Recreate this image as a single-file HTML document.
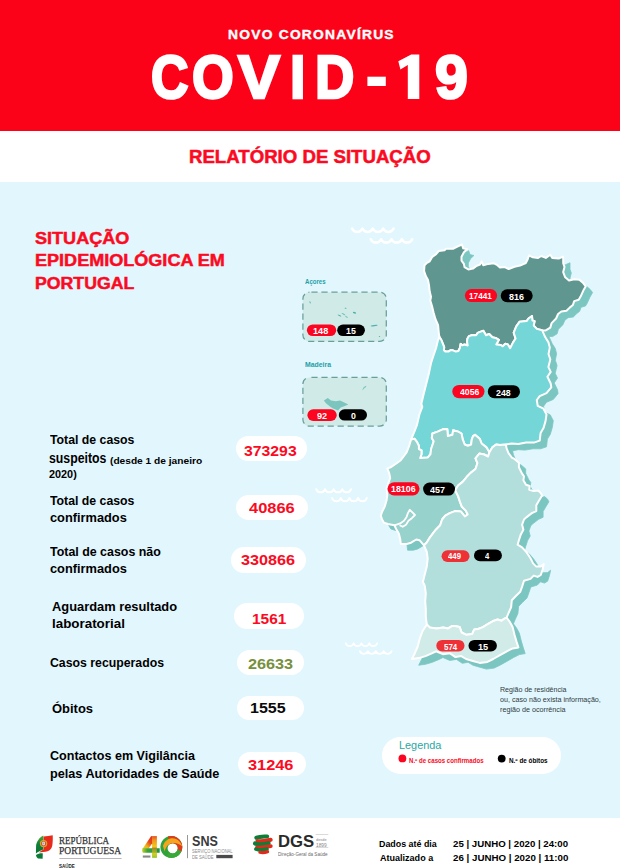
<!DOCTYPE html>
<html><head><meta charset="utf-8">
<style>
html,body{margin:0;padding:0;}
body{width:620px;height:868px;position:relative;overflow:hidden;background:#fff;font-family:"Liberation Sans",sans-serif;}
.bg{position:absolute;left:0;width:620px;}
.t{position:absolute;white-space:nowrap;line-height:1;font-weight:bold;transform-origin:0 50%;font-family:"Liberation Sans",sans-serif;}
.p{position:absolute;background:#fff;}
svg{position:absolute;left:0;top:0;}
</style></head><body>
<div class="bg" style="top:0;height:130.9px;background:#fb0219;"></div>
<div class="bg" style="top:182.1px;height:635.7px;background:#e2f6fd;"></div>
<div class="p" style="left:236.2px;top:436.4px;width:70.8px;height:24.5px;border-radius:12.2px;"></div>
<div class="p" style="left:235.7px;top:494.7px;width:72.2px;height:24.9px;border-radius:12.5px;"></div>
<div class="p" style="left:231.1px;top:547.0px;width:75.0px;height:25.5px;border-radius:12.8px;"></div>
<div class="p" style="left:234.2px;top:603.1px;width:70.0px;height:26.1px;border-radius:13.1px;"></div>
<div class="p" style="left:237.1px;top:650.4px;width:67.1px;height:24.9px;border-radius:12.4px;"></div>
<div class="p" style="left:237.1px;top:695.6px;width:67.1px;height:24.5px;border-radius:12.2px;"></div>
<div class="p" style="left:238.4px;top:751.6px;width:67.9px;height:24.5px;border-radius:12.2px;"></div>
<div class="p" style="left:381.5px;top:737.3px;width:179.3px;height:36.7px;border-radius:18.4px;"></div>
<svg width="620" height="868" viewBox="0 0 620 868">
<g transform="translate(6.8,6.2)" fill="#7cc6c1" stroke="#7cc6c1" stroke-width="0.8" stroke-linejoin="round"><path d="M461.9,244.5 L463.2,248.4 L467.1,249.3 L463.9,252.3 L461.5,256.8 L461.5,260.6 L463.9,263.9 L464.5,267.1 L468.4,269.4 L472.9,268.6 L476.8,265.8 L480,264.5 L481.7,261.3 L483.2,265.2 L488.4,263.9 L493.5,263.2 L497.4,265.2 L500,267.6 L504.8,267.1 L508.7,269 L514.5,266.8 L520,265.6 L525.8,263.1 L527.7,259.2 L529,255.3 L532.9,257.3 L538.1,257.9 L541.3,256 L545.8,257.9 L550.3,254.7 L552.3,257.9 L558.7,258.5 L563.2,256.6 L563.2,263.1 L564.5,266.9 L563.2,272.1 L565.2,277.3 L569,280.5 L574.2,279.2 L579.4,279.8 L583.2,283.1 L585.8,286.3 L583.2,290.8 L580.6,296.6 L578.7,299.8 L574.2,301.1 L572.9,305 L569.7,307.6 L566.5,310.8 L561.3,311.5 L558.1,314 L556.1,318.5 L551.6,323.1 L550.3,327.6 L545.8,330.4 L542.1,330.2 L536.9,328.9 L533.7,325.6 L534.6,321.1 L532.4,320.5 L532,316 L528.5,318.5 L526.6,321.1 L519.5,321.8 L516.3,326.3 L513.7,332.7 L515.6,338.5 L513.1,342.4 L510.1,348.2 L507.9,344.4 L505.3,343.7 L502.7,346.3 L500.8,345 L496.3,344.4 L498.9,339.8 L495.6,337.9 L492.4,337.3 L489.2,334 L486,335.3 L483.4,330.8 L480,331.9 L477.7,332.9 L476.1,335.2 L471.6,335.2 L469,336.1 L467.4,338.7 L467.1,341.9 L467.7,345.5 L464.5,344.5 L462.3,345.2 L460.6,343.9 L460,347.7 L458.4,351 L455.8,351.6 L452.9,350.3 L450.3,350.3 L448.4,351.6 L445.5,351.6 L443.9,350.3 L444.2,347.1 L442.9,343.9 L441.6,340.6 L439.5,337 L439,334.8 L438.1,325.2 L435.4,319 L433.5,312.3 L432.3,307.1 L430.3,300.6 L431,296.8 L429.7,291.6 L429,285.2 L428,280 L425.8,276.1 L424.1,271 L424.5,265.2 L426.5,263.2 L429.7,261.3 L432.3,256.8 L436.1,254.2 L438.7,251 L444.5,250.3 L445.8,248.8 L452.9,248.8 L457.4,246.5 Z"/><path d="M439.5,337 L441.6,340.6 L442.9,343.9 L444.2,347.1 L443.9,350.3 L445.5,351.6 L448.4,351.6 L450.3,350.3 L452.9,350.3 L455.8,351.6 L458.4,351 L460,347.7 L460.6,343.9 L462.3,345.2 L464.5,344.5 L467.7,345.5 L467.1,341.9 L467.4,338.7 L469,336.1 L471.6,335.2 L476.1,335.2 L477.7,332.9 L480,331.9 L483.4,330.8 L486,335.3 L489.2,334 L492.4,337.3 L495.6,337.9 L498.9,339.8 L496.3,344.4 L500.8,345 L502.7,346.3 L505.3,343.7 L507.9,344.4 L510.1,348.2 L513.1,342.4 L515.6,338.5 L513.7,332.7 L516.3,326.3 L519.5,321.8 L526.6,321.1 L528.5,318.5 L532,316 L532.4,320.5 L534.6,321.1 L533.7,325.6 L536.9,328.9 L542.1,330.2 L545.3,337.3 L548.5,342.4 L549.8,347.6 L548.5,354 L550.3,359.4 L548.4,367.1 L550.7,371.9 L547.4,376.8 L550.7,383.5 L551.3,387.4 L546.5,393.2 L539.7,396.1 L536.8,400 L537.7,405.8 L543.5,408.7 L546.5,414.5 L545.5,421.3 L543.5,428.1 L540.6,432.9 L539.7,440.6 L533.9,442.6 L526.1,442.6 L518.4,443.9 L511.6,443.5 L505.8,444.5 L500,445.1 L496.1,444.5 L492.3,447.4 L489.4,452.3 L486.5,447.4 L481.6,443.5 L479.7,438.7 L475,434.8 L473.1,436.1 L471.8,439.4 L471.1,444.5 L467.9,445.8 L464.7,444.5 L462.7,439.4 L461.5,433.5 L458.2,431.6 L453.1,430.3 L452.4,434.8 L447.9,436.1 L447.3,429 L442.7,429.3 L437.6,431.6 L432.4,433.5 L431.8,438.1 L433.7,441.3 L432.4,445.2 L431.1,449 L430.5,454.2 L427.9,457.4 L420.2,458.1 L421.5,454.2 L421.5,450.3 L418.9,449 L418.9,445.8 L416.9,441.9 L414.4,438.7 L411.1,439.4 L414.4,431.6 L416.9,425.2 L419.4,414.5 L422.3,406.8 L421.3,403.9 L423.2,396.1 L426.1,384.5 L429,372.9 L431,363.2 L433,357 L436.1,348 L438,340 Z"/><path d="M411.1,439.4 L414.4,438.7 L416.9,441.9 L418.9,445.8 L418.9,449 L421.5,450.3 L421.5,454.2 L420.2,458.1 L427.9,457.4 L430.5,454.2 L431.1,449 L432.4,445.2 L433.7,441.3 L431.8,438.1 L432.4,433.5 L437.6,431.6 L442.7,429.3 L447.3,429 L447.9,436.1 L452.4,434.8 L453.1,430.3 L458.2,431.6 L461.5,433.5 L462.7,439.4 L464.7,444.5 L467.9,445.8 L471.1,444.5 L471.8,439.4 L473.1,436.1 L475,434.8 L479.7,438.7 L481.6,443.5 L486.5,447.4 L489.4,452.3 L488.1,456.5 L484.2,454.5 L479.4,453.5 L475.5,458.4 L477.4,463.2 L475.5,469 L470.6,472.9 L466.8,476.8 L462.9,481.6 L458.1,485.5 L455.2,490.3 L458.1,496.1 L460,501.9 L461.9,506.8 L465.8,510.6 L467.7,514.5 L464.8,516.5 L461,511.6 L455,511.1 L449.8,513.1 L445.3,515.6 L442.1,519.5 L440.2,525.3 L436.3,529.2 L433.7,532.4 L429.8,537.6 L426.6,542.7 L424,545.3 L419.5,540.2 L416.3,539.5 L411.1,542.7 L406.6,544 L400.8,544 L400.2,538.9 L398.9,533.7 L396.3,529.2 L394.4,525.3 L387.9,524 L384,522.7 L382.1,519.5 L380.8,515.6 L382.1,511.8 L384.7,506.6 L386.6,500.2 L387.3,495 L386.6,488.5 L388.5,482.7 L390.2,478.2 L389.2,473.1 L387.3,468.5 L390.5,467.3 L395.6,464 L400.8,460.2 L404.7,455 L406.6,452.3 L409.2,445.8 Z"/><path d="M489.4,452.3 L492.3,447.4 L496.1,444.5 L500,445.1 L505.8,444.5 L506.6,448.4 L508.5,453.1 L511.8,457.6 L514.4,458.9 L518.9,462.7 L518.9,467.3 L522.1,473.7 L524,476.3 L523.4,480.2 L526,484.7 L529.6,486 L529.2,489.8 L533.7,491.1 L538.2,490.5 L540.8,493.1 L542.1,495.6 L538.9,500.8 L536.3,505.3 L536.3,511.1 L531.8,513.1 L526,517.6 L524,519.5 L522.1,524.7 L523.4,529.8 L520.8,534.4 L518.9,540.2 L517.6,544.7 L522.1,547.3 L526.6,552.4 L530.5,558.2 L533.1,563.4 L536.3,566.6 L540.8,566.4 L543.8,564 L542.7,569.2 L540.8,575 L537.6,576.9 L533.7,575.6 L530.5,578.9 L524,580.8 L522.1,586.6 L520.2,591.8 L515.6,596.3 L511.8,600.2 L511.1,607.3 L508.5,613.1 L506.6,617.6 L504,618.9 L501.5,620.8 L497.6,619.5 L492.6,621.3 L487.7,624.2 L482.9,627.1 L478.1,629 L474.2,629.4 L472.3,633.9 L466.5,634.8 L461.6,632.5 L459.7,627.1 L454.8,626.1 L451.9,626.1 L448.1,628.4 L443.2,627.4 L436.5,628.4 L429.7,627.4 L426.8,624.5 L425.8,616.8 L425.8,609 L425.2,601.3 L425.8,593.5 L424.8,585.8 L422.9,581.9 L424.8,574.2 L426.8,566.5 L427.7,558.7 L426.8,551.9 L424,545.3 L426.6,542.7 L429.8,537.6 L433.7,532.4 L436.3,529.2 L440.2,525.3 L442.1,519.5 L445.3,515.6 L449.8,513.1 L455,511.1 L461,511.6 L464.8,516.5 L467.7,514.5 L465.8,510.6 L461.9,506.8 L460,501.9 L458.1,496.1 L455.2,490.3 L458.1,485.5 L462.9,481.6 L466.8,476.8 L470.6,472.9 L475.5,469 L477.4,463.2 L475.5,458.4 L479.4,453.5 L484.2,454.5 L488.1,456.5 Z"/><path d="M426.8,624.5 L429.7,627.4 L436.5,628.4 L443.2,627.4 L448.1,628.4 L451.9,626.1 L454.8,626.1 L459.7,627.1 L461.6,632.5 L466.5,634.8 L472.3,633.9 L474.2,629.4 L478.1,629 L482.9,627.1 L487.7,624.2 L492.6,621.3 L497.6,619.5 L501.5,620.8 L504,618.9 L506.6,617.6 L508.7,620.3 L510,622.3 L512.6,627.1 L514.5,634.8 L516.5,641.6 L518.4,647.4 L512.6,648.4 L506.8,651.3 L500,655.2 L493.2,659 L487.4,661.9 L479.7,662.9 L472.9,661 L466.1,659 L461.3,656.1 L455.5,657.1 L449.7,653.2 L442.9,654.2 L436.1,651.3 L432.3,653.2 L425.5,656.1 L418.7,658.1 L411.9,659 L414.8,653.2 L417.7,646.5 L419.7,638.7 L422.6,631 Z"/></g>
<path d="M461.9,244.5 L463.2,248.4 L467.1,249.3 L463.9,252.3 L461.5,256.8 L461.5,260.6 L463.9,263.9 L464.5,267.1 L468.4,269.4 L472.9,268.6 L476.8,265.8 L480,264.5 L481.7,261.3 L483.2,265.2 L488.4,263.9 L493.5,263.2 L497.4,265.2 L500,267.6 L504.8,267.1 L508.7,269 L514.5,266.8 L520,265.6 L525.8,263.1 L527.7,259.2 L529,255.3 L532.9,257.3 L538.1,257.9 L541.3,256 L545.8,257.9 L550.3,254.7 L552.3,257.9 L558.7,258.5 L563.2,256.6 L563.2,263.1 L564.5,266.9 L563.2,272.1 L565.2,277.3 L569,280.5 L574.2,279.2 L579.4,279.8 L583.2,283.1 L585.8,286.3 L583.2,290.8 L580.6,296.6 L578.7,299.8 L574.2,301.1 L572.9,305 L569.7,307.6 L566.5,310.8 L561.3,311.5 L558.1,314 L556.1,318.5 L551.6,323.1 L550.3,327.6 L545.8,330.4 L542.1,330.2 L536.9,328.9 L533.7,325.6 L534.6,321.1 L532.4,320.5 L532,316 L528.5,318.5 L526.6,321.1 L519.5,321.8 L516.3,326.3 L513.7,332.7 L515.6,338.5 L513.1,342.4 L510.1,348.2 L507.9,344.4 L505.3,343.7 L502.7,346.3 L500.8,345 L496.3,344.4 L498.9,339.8 L495.6,337.9 L492.4,337.3 L489.2,334 L486,335.3 L483.4,330.8 L480,331.9 L477.7,332.9 L476.1,335.2 L471.6,335.2 L469,336.1 L467.4,338.7 L467.1,341.9 L467.7,345.5 L464.5,344.5 L462.3,345.2 L460.6,343.9 L460,347.7 L458.4,351 L455.8,351.6 L452.9,350.3 L450.3,350.3 L448.4,351.6 L445.5,351.6 L443.9,350.3 L444.2,347.1 L442.9,343.9 L441.6,340.6 L439.5,337 L439,334.8 L438.1,325.2 L435.4,319 L433.5,312.3 L432.3,307.1 L430.3,300.6 L431,296.8 L429.7,291.6 L429,285.2 L428,280 L425.8,276.1 L424.1,271 L424.5,265.2 L426.5,263.2 L429.7,261.3 L432.3,256.8 L436.1,254.2 L438.7,251 L444.5,250.3 L445.8,248.8 L452.9,248.8 L457.4,246.5 Z" fill="#5f9790" stroke="#fff" stroke-width="2.0" stroke-linejoin="round"/>
<path d="M439.5,337 L441.6,340.6 L442.9,343.9 L444.2,347.1 L443.9,350.3 L445.5,351.6 L448.4,351.6 L450.3,350.3 L452.9,350.3 L455.8,351.6 L458.4,351 L460,347.7 L460.6,343.9 L462.3,345.2 L464.5,344.5 L467.7,345.5 L467.1,341.9 L467.4,338.7 L469,336.1 L471.6,335.2 L476.1,335.2 L477.7,332.9 L480,331.9 L483.4,330.8 L486,335.3 L489.2,334 L492.4,337.3 L495.6,337.9 L498.9,339.8 L496.3,344.4 L500.8,345 L502.7,346.3 L505.3,343.7 L507.9,344.4 L510.1,348.2 L513.1,342.4 L515.6,338.5 L513.7,332.7 L516.3,326.3 L519.5,321.8 L526.6,321.1 L528.5,318.5 L532,316 L532.4,320.5 L534.6,321.1 L533.7,325.6 L536.9,328.9 L542.1,330.2 L545.3,337.3 L548.5,342.4 L549.8,347.6 L548.5,354 L550.3,359.4 L548.4,367.1 L550.7,371.9 L547.4,376.8 L550.7,383.5 L551.3,387.4 L546.5,393.2 L539.7,396.1 L536.8,400 L537.7,405.8 L543.5,408.7 L546.5,414.5 L545.5,421.3 L543.5,428.1 L540.6,432.9 L539.7,440.6 L533.9,442.6 L526.1,442.6 L518.4,443.9 L511.6,443.5 L505.8,444.5 L500,445.1 L496.1,444.5 L492.3,447.4 L489.4,452.3 L486.5,447.4 L481.6,443.5 L479.7,438.7 L475,434.8 L473.1,436.1 L471.8,439.4 L471.1,444.5 L467.9,445.8 L464.7,444.5 L462.7,439.4 L461.5,433.5 L458.2,431.6 L453.1,430.3 L452.4,434.8 L447.9,436.1 L447.3,429 L442.7,429.3 L437.6,431.6 L432.4,433.5 L431.8,438.1 L433.7,441.3 L432.4,445.2 L431.1,449 L430.5,454.2 L427.9,457.4 L420.2,458.1 L421.5,454.2 L421.5,450.3 L418.9,449 L418.9,445.8 L416.9,441.9 L414.4,438.7 L411.1,439.4 L414.4,431.6 L416.9,425.2 L419.4,414.5 L422.3,406.8 L421.3,403.9 L423.2,396.1 L426.1,384.5 L429,372.9 L431,363.2 L433,357 L436.1,348 L438,340 Z" fill="#74d6d6" stroke="#fff" stroke-width="2.0" stroke-linejoin="round"/>
<path d="M411.1,439.4 L414.4,438.7 L416.9,441.9 L418.9,445.8 L418.9,449 L421.5,450.3 L421.5,454.2 L420.2,458.1 L427.9,457.4 L430.5,454.2 L431.1,449 L432.4,445.2 L433.7,441.3 L431.8,438.1 L432.4,433.5 L437.6,431.6 L442.7,429.3 L447.3,429 L447.9,436.1 L452.4,434.8 L453.1,430.3 L458.2,431.6 L461.5,433.5 L462.7,439.4 L464.7,444.5 L467.9,445.8 L471.1,444.5 L471.8,439.4 L473.1,436.1 L475,434.8 L479.7,438.7 L481.6,443.5 L486.5,447.4 L489.4,452.3 L488.1,456.5 L484.2,454.5 L479.4,453.5 L475.5,458.4 L477.4,463.2 L475.5,469 L470.6,472.9 L466.8,476.8 L462.9,481.6 L458.1,485.5 L455.2,490.3 L458.1,496.1 L460,501.9 L461.9,506.8 L465.8,510.6 L467.7,514.5 L464.8,516.5 L461,511.6 L455,511.1 L449.8,513.1 L445.3,515.6 L442.1,519.5 L440.2,525.3 L436.3,529.2 L433.7,532.4 L429.8,537.6 L426.6,542.7 L424,545.3 L419.5,540.2 L416.3,539.5 L411.1,542.7 L406.6,544 L400.8,544 L400.2,538.9 L398.9,533.7 L396.3,529.2 L394.4,525.3 L387.9,524 L384,522.7 L382.1,519.5 L380.8,515.6 L382.1,511.8 L384.7,506.6 L386.6,500.2 L387.3,495 L386.6,488.5 L388.5,482.7 L390.2,478.2 L389.2,473.1 L387.3,468.5 L390.5,467.3 L395.6,464 L400.8,460.2 L404.7,455 L406.6,452.3 L409.2,445.8 Z" fill="#98d2cd" stroke="#fff" stroke-width="2.0" stroke-linejoin="round"/>
<path d="M489.4,452.3 L492.3,447.4 L496.1,444.5 L500,445.1 L505.8,444.5 L506.6,448.4 L508.5,453.1 L511.8,457.6 L514.4,458.9 L518.9,462.7 L518.9,467.3 L522.1,473.7 L524,476.3 L523.4,480.2 L526,484.7 L529.6,486 L529.2,489.8 L533.7,491.1 L538.2,490.5 L540.8,493.1 L542.1,495.6 L538.9,500.8 L536.3,505.3 L536.3,511.1 L531.8,513.1 L526,517.6 L524,519.5 L522.1,524.7 L523.4,529.8 L520.8,534.4 L518.9,540.2 L517.6,544.7 L522.1,547.3 L526.6,552.4 L530.5,558.2 L533.1,563.4 L536.3,566.6 L540.8,566.4 L543.8,564 L542.7,569.2 L540.8,575 L537.6,576.9 L533.7,575.6 L530.5,578.9 L524,580.8 L522.1,586.6 L520.2,591.8 L515.6,596.3 L511.8,600.2 L511.1,607.3 L508.5,613.1 L506.6,617.6 L504,618.9 L501.5,620.8 L497.6,619.5 L492.6,621.3 L487.7,624.2 L482.9,627.1 L478.1,629 L474.2,629.4 L472.3,633.9 L466.5,634.8 L461.6,632.5 L459.7,627.1 L454.8,626.1 L451.9,626.1 L448.1,628.4 L443.2,627.4 L436.5,628.4 L429.7,627.4 L426.8,624.5 L425.8,616.8 L425.8,609 L425.2,601.3 L425.8,593.5 L424.8,585.8 L422.9,581.9 L424.8,574.2 L426.8,566.5 L427.7,558.7 L426.8,551.9 L424,545.3 L426.6,542.7 L429.8,537.6 L433.7,532.4 L436.3,529.2 L440.2,525.3 L442.1,519.5 L445.3,515.6 L449.8,513.1 L455,511.1 L461,511.6 L464.8,516.5 L467.7,514.5 L465.8,510.6 L461.9,506.8 L460,501.9 L458.1,496.1 L455.2,490.3 L458.1,485.5 L462.9,481.6 L466.8,476.8 L470.6,472.9 L475.5,469 L477.4,463.2 L475.5,458.4 L479.4,453.5 L484.2,454.5 L488.1,456.5 Z" fill="#b2dedc" stroke="#fff" stroke-width="2.0" stroke-linejoin="round"/>
<path d="M426.8,624.5 L429.7,627.4 L436.5,628.4 L443.2,627.4 L448.1,628.4 L451.9,626.1 L454.8,626.1 L459.7,627.1 L461.6,632.5 L466.5,634.8 L472.3,633.9 L474.2,629.4 L478.1,629 L482.9,627.1 L487.7,624.2 L492.6,621.3 L497.6,619.5 L501.5,620.8 L504,618.9 L506.6,617.6 L508.7,620.3 L510,622.3 L512.6,627.1 L514.5,634.8 L516.5,641.6 L518.4,647.4 L512.6,648.4 L506.8,651.3 L500,655.2 L493.2,659 L487.4,661.9 L479.7,662.9 L472.9,661 L466.1,659 L461.3,656.1 L455.5,657.1 L449.7,653.2 L442.9,654.2 L436.1,651.3 L432.3,653.2 L425.5,656.1 L418.7,658.1 L411.9,659 L414.8,653.2 L417.7,646.5 L419.7,638.7 L422.6,631 Z" fill="#d0ebe8" stroke="#fff" stroke-width="2.0" stroke-linejoin="round"/>
<path d="M394.4,525.3 L400.2,523.4 L404,520.8 L406.6,516.9 L407.9,513.1 L409.8,509.8 L412.4,512.4 L415,515 L411.8,518.2 L408.5,520.8 L406,524.7 L402.7,526.8 L399.6,525.2" fill="none" stroke="#fff" stroke-width="1.8" stroke-linejoin="round"/>
<path d="M352.0,228.6 a5.68,5.68 0 0 0 10.40,0 a5.68,5.68 0 0 0 10.40,0 a5.68,5.68 0 0 0 10.40,0 a5.68,5.68 0 0 0 10.40,0" fill="none" stroke="#fff" stroke-width="2.5" stroke-linecap="round" stroke-linejoin="round"/>
<path d="M370.8,239.2 a5.64,5.64 0 0 0 10.35,0 a5.64,5.64 0 0 0 10.35,0 a5.64,5.64 0 0 0 10.35,0 a5.64,5.64 0 0 0 10.35,0" fill="none" stroke="#fff" stroke-width="2.5" stroke-linecap="round" stroke-linejoin="round"/>
<path d="M316.3,489.3 a4.64,4.64 0 0 0 8.67,0 a4.64,4.64 0 0 0 8.67,0 a4.64,4.64 0 0 0 8.67,0 a4.64,4.64 0 0 0 8.67,0" fill="none" stroke="#fff" stroke-width="2.0" stroke-linecap="round" stroke-linejoin="round"/>
<path d="M332.1,498.0 a4.50,4.50 0 0 0 8.67,0 a4.50,4.50 0 0 0 8.67,0 a4.50,4.50 0 0 0 8.67,0 a4.50,4.50 0 0 0 8.67,0" fill="none" stroke="#fff" stroke-width="2.0" stroke-linecap="round" stroke-linejoin="round"/>
<path d="M345.7,643.3 a4.17,4.17 0 0 0 7.88,0 a4.17,4.17 0 0 0 7.88,0 a4.17,4.17 0 0 0 7.88,0 a4.17,4.17 0 0 0 7.88,0" fill="none" stroke="#fff" stroke-width="1.8" stroke-linecap="round" stroke-linejoin="round"/>
<path d="M359.9,651.1 a4.26,4.26 0 0 0 7.93,0 a4.26,4.26 0 0 0 7.93,0 a4.26,4.26 0 0 0 7.93,0 a4.26,4.26 0 0 0 7.93,0" fill="none" stroke="#fff" stroke-width="1.8" stroke-linecap="round" stroke-linejoin="round"/>
<rect x="302.9" y="292.2" width="83.4" height="49.2" rx="6.5" fill="#d0eae7" stroke="#6a9f99" stroke-width="1.25" stroke-dasharray="6.2 3.8" stroke-dashoffset="-2"/>
<rect x="302.9" y="377.4" width="83.4" height="48.7" rx="6.5" fill="#d0eae7" stroke="#6a9f99" stroke-width="1.25" stroke-dasharray="6.2 3.8" stroke-dashoffset="-2"/>
<ellipse cx="310.1" cy="302.3" rx="0.5" ry="1.2" fill="#4fb0ad" transform="rotate(-20 310.1 302.3)"/>
<ellipse cx="345.6" cy="308.2" rx="1.0" ry="0.5" fill="#4fb0ad" transform="rotate(10 345.6 308.2)"/>
<ellipse cx="339.5" cy="315.5" rx="2.0" ry="0.45" fill="#4fb0ad" transform="rotate(25 339.5 315.5)"/>
<ellipse cx="343.5" cy="314.2" rx="2.2" ry="0.45" fill="#4fb0ad" transform="rotate(30 343.5 314.2)"/>
<ellipse cx="346.5" cy="316.8" rx="1.5" ry="0.4" fill="#4fb0ad" transform="rotate(30 346.5 316.8)"/>
<ellipse cx="354.5" cy="312.8" rx="1.7" ry="0.8" fill="#4fb0ad" transform="rotate(15 354.5 312.8)"/>
<ellipse cx="374.2" cy="325.6" rx="3.6" ry="0.7" fill="#4fb0ad" transform="rotate(-8 374.2 325.6)"/>
<ellipse cx="379.5" cy="336.6" rx="0.7" ry="0.5" fill="#4fb0ad" transform="rotate(0 379.5 336.6)"/>
<path d="M323.8,400.4 L327.8,398 L331,400.4 L335.9,401.2 L340,400.4 L344.8,402.8 L348.3,404.4 L344.8,406 L340.7,407.6 L338,410.5 L333,408.5 L330.3,406.8 L326.2,403.6 Z" fill="#7cc5bf"/>
<path d="M362.4,390.6 Q362.6,387 366.2,385.8 Q366.8,387 364.6,388 Q363.4,389 362.4,390.6 Z" fill="#7cc5bf"/>
<rect x="464.9" y="289.0" width="32.2" height="13.1" rx="6.6" fill="#fb0521"/>
<rect x="500.7" y="289.3" width="32.0" height="12.9" rx="6.4" fill="#000"/>
<rect x="452.3" y="384.9" width="32.2" height="13.3" rx="6.7" fill="#fb0521"/>
<rect x="487.8" y="385.2" width="32.2" height="13.0" rx="6.5" fill="#000"/>
<rect x="387.5" y="482.2" width="32.0" height="13.3" rx="6.7" fill="#fb0521"/>
<rect x="423.1" y="482.6" width="31.9" height="12.9" rx="6.4" fill="#000"/>
<rect x="441.6" y="550.3" width="27.9" height="11.7" rx="5.9" fill="#ee3037"/>
<rect x="474.0" y="549.5" width="27.9" height="11.8" rx="5.9" fill="#000"/>
<rect x="436.3" y="639.9" width="28.2" height="11.6" rx="5.8" fill="#ee3037"/>
<rect x="468.5" y="639.9" width="28.4" height="11.6" rx="5.8" fill="#000"/>
<rect x="306.9" y="324.4" width="29.3" height="11.7" rx="5.9" fill="#fb0521"/>
<rect x="337.2" y="324.6" width="27.7" height="11.5" rx="5.8" fill="#000"/>
<rect x="307.4" y="409.3" width="29.3" height="11.7" rx="5.8" fill="#fb0521"/>
<rect x="338.8" y="409.3" width="28.2" height="11.3" rx="5.7" fill="#000"/>
<path d="M419.3,54.5 L411.2,54.5 L398.3,61.3 L400.4,69.4 L407.8,64.9 L407.8,98.9 L419.3,98.9 Z" fill="#fff"/>
<circle cx="402.4" cy="758.4" r="3.9" fill="#fb0521"/><circle cx="501.7" cy="758.6" r="3.9" fill="#000"/>
<defs><linearGradient id="g4a" x1="0.9" y1="0" x2="0.1" y2="1"><stop offset="0" stop-color="#e0341b"/><stop offset="0.35" stop-color="#e6451a"/><stop offset="0.7" stop-color="#f0b41a"/><stop offset="1" stop-color="#d8d22a"/></linearGradient><linearGradient id="g4b" x1="0" y1="0" x2="0" y2="1"><stop offset="0" stop-color="#e8521b"/><stop offset="0.2" stop-color="#f09a1b"/><stop offset="0.45" stop-color="#f0c41a"/><stop offset="0.8" stop-color="#c4cf28"/><stop offset="1" stop-color="#8fc22c"/></linearGradient><linearGradient id="g4c" x1="0" y1="0" x2="1" y2="0"><stop offset="0" stop-color="#c6d02a"/><stop offset="0.3" stop-color="#3da437"/><stop offset="1" stop-color="#149645"/></linearGradient><linearGradient id="gfg" x1="0" y1="0" x2="0" y2="1"><stop offset="0" stop-color="#4fae2d"/><stop offset="0.5" stop-color="#0e7f3a"/><stop offset="1" stop-color="#0a7434"/></linearGradient><clipPath id="cdgs"><circle cx="263.05" cy="844.35" r="10.1"/></clipPath><clipPath id="c0"><path d="M171.35,835.9 a11,11 0 1,0 0.01,0 Z M172.7,843.2 a5.1,5.1 0 1,1 -0.01,0 Z" clip-rule="evenodd"/></clipPath></defs>
<path d="M43.3,835.4 C39.6,837.2 36.6,841.2 36.1,845.6 L35.9,853.6 C38,851.8 41,850.4 43.3,849.6 Z" fill="url(#gfg)"/>
<path d="M36,855 C38,853.6 40.4,853.2 42.8,853.4 L42.6,858.8 L38,858.4 C36.8,857.8 36.1,856.6 36,855 Z" fill="#0c7a37"/>
<path d="M43.5,836.4 C46.5,836.2 49.8,835.8 52.7,835.2 C52.9,838.6 52.8,842.4 52.3,845.4 C51.6,848.6 50,850.4 47.6,851.2 C44.8,852 41.6,852 39.0,852.6 C40.4,851.2 42,850.2 43.5,849.6 Z" fill="#e62b1b"/>
<circle cx="43.6" cy="843.6" r="3.7" fill="#d9a92a"/><circle cx="43.6" cy="843.6" r="2.6" fill="#d3552a"/><rect x="42.35" y="841.8" width="2.5" height="3.5" rx="0.8" fill="#e9eef7"/><rect x="43.0" y="842.5" width="1.2" height="1.9" fill="#8aa5d8"/>
<rect x="59.4" y="858.3" width="62.2" height="0.7" fill="#9a9a9a"/>
<path d="M152.1,836.1 L156.9,836.1 L156.9,857.7 L152.1,857.7 Z" fill="url(#g4b)"/>
<path d="M151.0,836.3 Q151.4,836.1 152.2,836.1 L152.2,843.3 L148.7,848.5 L142.3,849.2 Z" fill="url(#g4a)"/>
<path d="M142.5,848.3 L159.7,848.3 L159.7,852.8 L142.9,852.8 Q141.6,851 142.5,848.3 Z" fill="url(#g4c)"/>
<path d="M152.1,847.5 L156.9,847.5 L156.9,857.7 L152.1,857.7 Z" fill="url(#g4b)" opacity="0.6"/>
<g clip-path="url(#c0)"><rect x="160" y="835" width="23" height="24" fill="#2fa23a"/><path d="M167.5,835 L183,835 L183,853.5 L176,849 L171,846.8 Z" fill="#de3a1e"/><path d="M163,846 C165,839.5 171,837 176,839 C179,840.4 181.5,843.2 182.4,846.5 C179,843.6 175.4,842.2 171.4,843.2 C167.6,844.2 165.6,847.6 164.6,851.5 Z" fill="#f4a51c"/><path d="M166.5,857 C169,859 175,859 178.5,856 C180,854.6 181,853 181.6,851.4 L177,849 C176,852 172,853.6 168.6,852.2 Z" fill="#3aa836"/></g>
<rect x="142.8" y="855.5" width="7.6" height="2.1" fill="#555" opacity="0.7"/>
<rect x="187.2" y="835" width="0.7" height="23.2" fill="#6a6a6a"/>
<rect x="216.3" y="854.9" width="16.3" height="3.3" fill="#4a4a4a"/>
<path d="M256.3,837.7 C260,836.7 264,836.7 267.2,836.4" fill="none" stroke="#0e7d38" stroke-width="4.0" stroke-linecap="round"/><path d="M257.5,841.2 C262,842 267,840.6 270.6,839.8" fill="none" stroke="#e12a1b" stroke-width="4.2" stroke-linecap="round"/><path d="M255.1,843.4 C259,844.8 265,844.4 268.5,843.2" fill="none" stroke="#0e7d38" stroke-width="4.2" stroke-linecap="round"/><path d="M257,847.5 C262,848 267,846.8 270.8,846.1" fill="none" stroke="#e12a1b" stroke-width="3.8" stroke-linecap="round"/><path d="M255.9,849.1 C259,850.2 263,850 267,849.1" fill="none" stroke="#0e7d38" stroke-width="3.6" stroke-linecap="round"/><path d="M259.9,852.3 C262,852.8 265,852.6 267.6,851.7" fill="none" stroke="#e12a1b" stroke-width="3.2" stroke-linecap="round"/>
<rect x="315.6" y="834.2" width="12.7" height="0.5" fill="#b5b5b5"/><rect x="315.6" y="847.0" width="12.7" height="0.5" fill="#b5b5b5"/>
</svg>
<div class="t" id="h1" style="left:227.96px;top:27.81px;font-size:13.4px;color:#fff;letter-spacing:1.2px;-webkit-text-stroke:0.4px #fff;transform:scaleX(1.0310);">NOVO CORONAVÍRUS</div>
<div class="t" id="h20" style="left:151.24px;top:47.08px;font-size:60.8px;color:#fff;-webkit-text-stroke:2.6px #fff;transform:scaleX(0.8533);">C</div>
<div class="t" id="h21" style="left:192.45px;top:47.08px;font-size:60.8px;color:#fff;-webkit-text-stroke:2.6px #fff;transform:scaleX(0.8831);">O</div>
<div class="t" id="h22" style="left:238.11px;top:47.08px;font-size:60.8px;color:#fff;-webkit-text-stroke:2.6px #fff;transform:scaleX(1.0350);">V</div>
<div class="t" id="h23" style="left:290.23px;top:47.08px;font-size:60.8px;color:#fff;-webkit-text-stroke:2.6px #fff;transform:scaleX(0.9172);">I</div>
<div class="t" id="h24" style="left:314.74px;top:47.08px;font-size:60.8px;color:#fff;-webkit-text-stroke:2.6px #fff;transform:scaleX(0.8963);">D</div>
<div class="t" id="h25" style="left:365.80px;top:46.33px;font-size:60.8px;color:#fff;-webkit-text-stroke:2.0px #fff;transform:scaleX(1.0508);">-</div>
<div class="t" id="h27" style="left:435.09px;top:47.08px;font-size:60.8px;color:#fff;-webkit-text-stroke:2.6px #fff;transform:scaleX(0.9718);">9</div>
<div class="t" id="h3" style="left:189.44px;top:147.91px;font-size:18.0px;color:#fb0a22;-webkit-text-stroke:0.5px #fb0a22;transform:scaleX(1.0345);">RELATÓRIO DE SITUAÇÃO</div>
<div class="t" id="s1" style="left:34.75px;top:229.82px;font-size:17.4px;color:#fb0a22;-webkit-text-stroke:0.5px #fb0a22;transform:scaleX(1.0390);">SITUAÇÃO</div>
<div class="t" id="s2" style="left:35.31px;top:252.42px;font-size:17.4px;color:#fb0a22;-webkit-text-stroke:0.5px #fb0a22;transform:scaleX(1.0380);">EPIDEMIOLÓGICA EM</div>
<div class="t" id="s3" style="left:35.37px;top:274.82px;font-size:17.4px;color:#fb0a22;-webkit-text-stroke:0.5px #fb0a22;transform:scaleX(1.0176);">PORTUGAL</div>
<div class="t" id="l1a" style="left:50.25px;top:434.14px;font-size:12.9px;color:#000;transform:scaleX(0.9533);">Total de casos</div>
<div class="t" id="l1b" style="left:49.20px;top:451.15px;font-size:14.0px;color:#000;transform:scaleX(0.8777);">suspeitos</div>
<div class="t" id="l1c" style="left:110.49px;top:455.88px;font-size:9.7px;color:#000;transform:scaleX(1.0498);">(desde 1 de janeiro</div>
<div class="t" id="l1d" style="left:49.46px;top:469.86px;font-size:10.4px;color:#000;transform:scaleX(1.0443);">2020)</div>
<div class="t" id="l2a" style="left:50.25px;top:494.94px;font-size:12.9px;color:#000;transform:scaleX(0.9533);">Total de casos</div>
<div class="t" id="l2b" style="left:49.58px;top:511.11px;font-size:13.6px;color:#000;transform:scaleX(0.9415);">confirmados</div>
<div class="t" id="l3a" style="left:50.25px;top:545.54px;font-size:12.9px;color:#000;transform:scaleX(0.9629);">Total de casos não</div>
<div class="t" id="l3b" style="left:49.58px;top:561.70px;font-size:13.4px;color:#000;transform:scaleX(0.9566);">confirmados</div>
<div class="t" id="l4a" style="left:51.79px;top:600.50px;font-size:12.9px;color:#000;transform:scaleX(0.9976);">Aguardam resultado</div>
<div class="t" id="l4b" style="left:51.86px;top:618.09px;font-size:12.9px;color:#000;transform:scaleX(1.0382);">laboratorial</div>
<div class="t" id="l5" style="left:49.58px;top:657.14px;font-size:12.9px;color:#000;transform:scaleX(0.9528);">Casos recuperados</div>
<div class="t" id="l6" style="left:51.71px;top:703.30px;font-size:12.9px;color:#000;transform:scaleX(1.0063);">Óbitos</div>
<div class="t" id="l7a" style="left:49.57px;top:750.14px;font-size:12.9px;color:#000;transform:scaleX(0.9746);">Contactos em Vigilância</div>
<div class="t" id="l7b" style="left:49.89px;top:767.94px;font-size:12.9px;color:#000;transform:scaleX(0.9830);">pelas Autoridades de Saúde</div>
<div class="t" id="n1" style="left:244.43px;top:442.92px;font-size:15px;color:#fb0a22;transform:scaleX(1.0522);">373293</div>
<div class="t" id="n2" style="left:248.66px;top:499.92px;font-size:15px;color:#fb0a22;transform:scaleX(1.0951);">40866</div>
<div class="t" id="n3" style="left:241.34px;top:552.30px;font-size:15px;color:#fb0a22;transform:scaleX(1.0801);">330866</div>
<div class="t" id="n4" style="left:251.79px;top:610.70px;font-size:15px;color:#fb0a22;transform:scaleX(1.0291);">1561</div>
<div class="t" id="n5" style="left:247.82px;top:656.12px;font-size:15px;color:#77903c;transform:scaleX(1.0813);">26633</div>
<div class="t" id="n6" style="left:250.43px;top:699.90px;font-size:15px;color:#0a0a0a;transform:scaleX(1.0681);">1555</div>
<div class="t" id="n7" style="left:248.26px;top:757.10px;font-size:15px;color:#fb0a22;transform:scaleX(1.0893);">31246</div>
<div class="t" id="m1a" style="left:469.06px;top:291.95px;font-size:8.3px;color:#fff;transform:scaleX(0.9936);">17441</div>
<div class="t" id="m1b" style="left:508.89px;top:292.55px;font-size:8.3px;color:#fff;transform:scaleX(1.0796);">816</div>
<div class="t" id="m2a" style="left:459.62px;top:387.95px;font-size:8.3px;color:#fff;transform:scaleX(1.0442);">4056</div>
<div class="t" id="m2b" style="left:496.28px;top:389.02px;font-size:8.3px;color:#fff;transform:scaleX(1.0578);">248</div>
<div class="t" id="m3a" style="left:390.54px;top:484.93px;font-size:8.3px;color:#fff;transform:scaleX(1.0639);">18106</div>
<div class="t" id="m3b" style="left:430.35px;top:485.76px;font-size:8.3px;color:#fff;transform:scaleX(1.0780);">457</div>
<div class="t" id="m4a" style="left:448.28px;top:551.82px;font-size:8.3px;color:#fff;transform:scaleX(0.9370);">449</div>
<div class="t" id="m4b" style="left:485.29px;top:551.82px;font-size:8.3px;color:#fff;transform:scaleX(0.9228);">4</div>
<div class="t" id="m5a" style="left:443.71px;top:643.22px;font-size:8.3px;color:#fff;transform:scaleX(0.9482);">574</div>
<div class="t" id="m5b" style="left:478.08px;top:643.16px;font-size:8.3px;color:#fff;transform:scaleX(1.1022);">15</div>
<div class="t" id="m6a" style="left:313.30px;top:326.95px;font-size:8.3px;color:#fff;transform:scaleX(1.0982);">148</div>
<div class="t" id="m6b" style="left:345.69px;top:326.95px;font-size:8.3px;color:#fff;transform:scaleX(1.0568);">15</div>
<div class="t" id="m7a" style="left:316.87px;top:411.95px;font-size:8.3px;color:#fff;transform:scaleX(1.1030);">92</div>
<div class="t" id="m7b" style="left:350.52px;top:411.93px;font-size:8.3px;color:#fff;transform:scaleX(1.0513);">0</div>
<div class="t" id="az" style="left:304.78px;top:278.52px;font-size:6.6px;color:#1f9fa8;transform:scaleX(0.9219);">Açores</div>
<div class="t" id="md" style="left:304.69px;top:362.37px;font-size:6.6px;color:#1f9fa8;transform:scaleX(1.0429);">Madeira</div>
<div class="t" id="r1" style="left:500.31px;top:686.18px;font-size:7px;color:#2f3b42;font-weight:normal;transform:scaleX(1.0118);">Região de residência</div>
<div class="t" id="r2" style="left:500.33px;top:695.78px;font-size:7px;color:#2f3b42;font-weight:normal;transform:scaleX(1.0199);">ou, caso não exista informação,</div>
<div class="t" id="r3" style="left:500.39px;top:705.78px;font-size:7px;color:#2f3b42;font-weight:normal;transform:scaleX(1.0267);">região de ocorrência</div>
<div class="t" id="lg" style="left:398.82px;top:739.80px;font-size:11px;color:#2aa7a3;font-weight:normal;transform:scaleX(0.9882);">Legenda</div>
<div class="t" id="lg1" style="left:409.21px;top:757.71px;font-size:6.8px;color:#fb0a22;transform:scaleX(0.8986);">N.º de casos confirmados</div>
<div class="t" id="lg2" style="left:509.45px;top:757.76px;font-size:6.8px;color:#000;transform:scaleX(0.9321);">N.º de óbitos</div>
<div class="t" id="f1" style="left:379.37px;top:839.10px;font-size:9.5px;color:#000;transform:scaleX(0.9345);">Dados até dia</div>
<div class="t" id="f2" style="left:453.22px;top:839.07px;font-size:9.5px;color:#000;transform:scaleX(1.0178);">25 | JUNHO | 2020 | 24:00</div>
<div class="t" id="f3" style="left:379.70px;top:853.10px;font-size:9.5px;color:#000;transform:scaleX(0.9506);">Atualizado a</div>
<div class="t" id="f4" style="left:453.22px;top:853.07px;font-size:9.5px;color:#000;transform:scaleX(1.0251);">26 | JUNHO | 2020 | 11:00</div>
<div class="t" id="rp1" style="left:59.03px;top:836.04px;font-size:10.4px;color:#333;font-weight:normal;font-family:'Liberation Serif',serif;-webkit-text-stroke:0.25px #333;transform:scaleX(0.8685);">REPÚBLICA</div>
<div class="t" id="rp2" style="left:58.99px;top:846.44px;font-size:10.4px;color:#333;font-weight:normal;font-family:'Liberation Serif',serif;-webkit-text-stroke:0.25px #333;transform:scaleX(0.9135);">PORTUGUESA</div>
<div class="t" id="rp3" style="left:58.92px;top:865.04px;font-size:4.6px;color:#222;transform:scaleX(0.9850);">SAÚDE</div>
<div class="t" id="sns" style="left:192.23px;top:834.25px;font-size:14.6px;color:#3a3a3a;transform:scaleX(0.8617);">SNS</div>
<div class="t" id="sns2" style="left:192.33px;top:849.01px;font-size:5.2px;color:#8a8a8a;font-weight:normal;transform:scaleX(0.7939);">SERVIÇO NACIONAL</div>
<div class="t" id="sns3" style="left:192.46px;top:855.41px;font-size:5.2px;color:#8a8a8a;font-weight:normal;transform:scaleX(0.8103);">DE SAÚDE</div>
<div class="t" id="dgs" style="left:277.65px;top:833.49px;font-size:16.2px;color:#2a2a2a;transform:scaleX(1.0300);">DGS</div>
<div class="t" id="dgs2" style="left:278.16px;top:851.83px;font-size:5.2px;color:#6a6a6a;font-weight:normal;transform:scaleX(0.8871);">Direção-Geral da Saúde</div>
<div class="t" id="dgs3" style="left:315.85px;top:838.91px;font-size:3.8px;color:#888;font-weight:normal;transform:scaleX(1.0258);">desde</div>
<div class="t" id="dgs4" style="left:316.17px;top:842.99px;font-size:5.0px;color:#888;font-weight:normal;transform:scaleX(0.9559);">1899</div>
</body></html>
